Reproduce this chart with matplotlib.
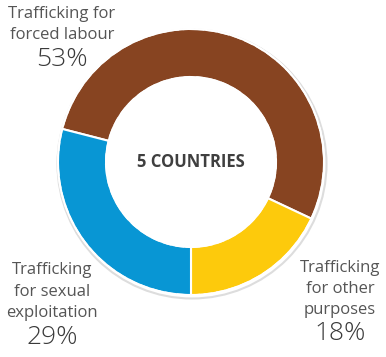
import matplotlib.pyplot as plt
from matplotlib.patches import Circle

labels = ["Trafficking for\nforced labour", "Trafficking\nfor other\npurposes", "Trafficking\nfor sexual\nexploitation"]
shares = [53, 18, 29]
colors = ["#874421", "#FDCA0C", "#0896D4"]
center_text = "5 COUNTRIES"

W, H = 386, 357
fig = plt.figure(figsize=(W / 100, H / 100), dpi=100)
ax = fig.add_axes([0, 0, 1, 1])

cx, cy = 191, H - 162
r_out, r_in = 133, 85
# brown starts where blue ends, blue ends at 6 o'clock going clockwise
start = -90 + 360 * (shares[0] + shares[1]) / 100

ax.pie(shares, colors=colors, startangle=start, counterclock=False,
       center=(cx, cy), radius=r_out, frame=True,
       wedgeprops=dict(width=r_out - r_in, edgecolor="white", linewidth=1.5))
ax.set_xlim(0, W)
ax.set_ylim(0, H)
ax.set_aspect("equal")
ax.axis("off")

# soft shadow and dashed rims
ax.add_patch(Circle((cx + 1, cy - 2), r_out + 1.5, fill=False, edgecolor="#dddddd", linewidth=1.5, zorder=0))
for r in (r_out, r_in):
    ax.add_patch(Circle((cx, cy), r, fill=False, edgecolor="white", linewidth=1.3,
                        linestyle=(0, (5, 2)), zorder=5))

ax.text(cx, cy, center_text, ha="center", va="center", fontsize=12, fontweight="bold",
        color="#3f3f3f", family="Open Sans")

txt = "#555555"
label_pos = [(62, [14, 35], 60), (340, [268, 289, 310], 334), (52, [270, 292, 313], 338)]
for lab, share, (x, ys, yp) in zip(labels, shares, label_pos):
    for line, y in zip(lab.split("\n"), ys):
        ax.text(x, H - y, line, ha="center", va="center", fontsize=12, color=txt, family="Open Sans")
    ax.text(x, H - yp, f"{share}%", ha="center", va="center", fontsize=19, color="#3a3a3a",
            family="Open Sans", fontweight="light")

fig.savefig("out.png", dpi=100)
